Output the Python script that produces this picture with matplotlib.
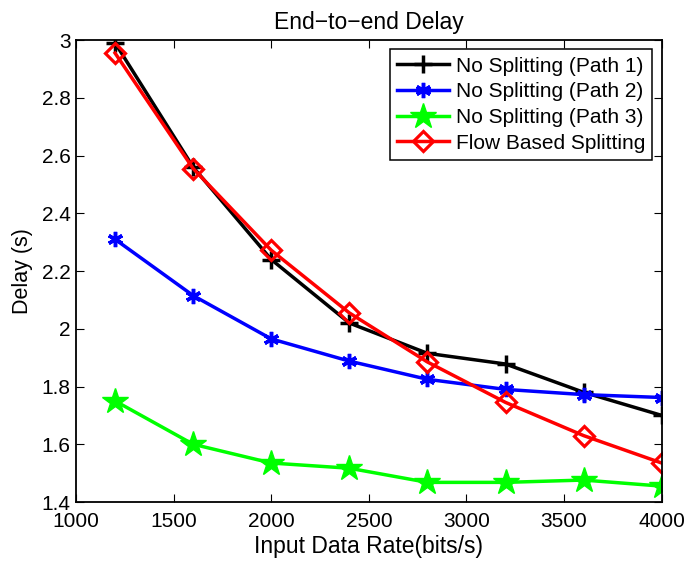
import matplotlib
matplotlib.use('Agg')
import matplotlib.pyplot as plt

plt.rcParams['font.family'] = ['Liberation Sans', 'DejaVu Sans']

# Datos
rates = [1200, 1600, 2000, 2400, 2800, 3200, 3600, 4000]
path1 = [2.99, 2.56, 2.24, 2.02, 1.915, 1.878, 1.78, 1.70]
path2 = [2.31, 2.115, 1.965, 1.888, 1.825, 1.79, 1.772, 1.762]
path3 = [1.75, 1.60, 1.535, 1.517, 1.468, 1.468, 1.476, 1.455]
flow = [2.955, 2.555, 2.272, 2.055, 1.885, 1.745, 1.63, 1.535]

fig = plt.figure(figsize=(6.85, 5.65), dpi=100)
ax = fig.add_axes([0.111, 0.1115, 0.855, 0.8175])

ax.plot(rates, path1, color='black', lw=2.5, marker='+', ms=13, mew=2.5,
        label='No Splitting (Path 1)')
ax.plot(rates, path2, color='blue', lw=2.5, marker=(6, 2, 0), ms=11, mew=2.5,
        label='No Splitting (Path 2)')
ax.plot(rates, path3, color='#00ff00', lw=2.5, marker='*', ms=19, mew=1,
        label='No Splitting (Path 3)')
ax.plot(rates, flow, color='red', lw=2.5, marker='D', ms=10, mew=2.3,
        mfc='none', label='Flow Based Splitting')

ax.set_xlim(1000, 4000)
ax.set_ylim(1.4, 3.0)
ax.set_xticks(range(1000, 4001, 500))
ax.set_yticks([1.4, 1.6, 1.8, 2.0, 2.2, 2.4, 2.6, 2.8, 3.0])
ax.set_yticklabels(['1.4', '1.6', '1.8', '2', '2.2', '2.4', '2.6', '2.8', '3'])
ax.tick_params(direction='in', top=True, right=True, labelsize=15, length=6)
ax.tick_params(axis='x', pad=7)
ax.tick_params(axis='y', pad=4)
for s in ax.spines.values():
    s.set_linewidth(1.3)

ax.set_xlabel('Input Data Rate(bits/s)', fontsize=16.5, labelpad=3)
ax.set_ylabel('Delay (s)', fontsize=15.5, labelpad=6)
ax.set_title('End\u2212to\u2212end Delay', fontsize=16.5, pad=8)

leg = ax.legend(loc='upper right', fontsize=15, fancybox=False, framealpha=1,
                edgecolor='black', handlelength=2.5, borderaxespad=0.45,
                handletextpad=0.3, labelspacing=0.32, borderpad=0.35)
leg.get_frame().set_linewidth(1.1)

fig.savefig('out.png', dpi=100)
